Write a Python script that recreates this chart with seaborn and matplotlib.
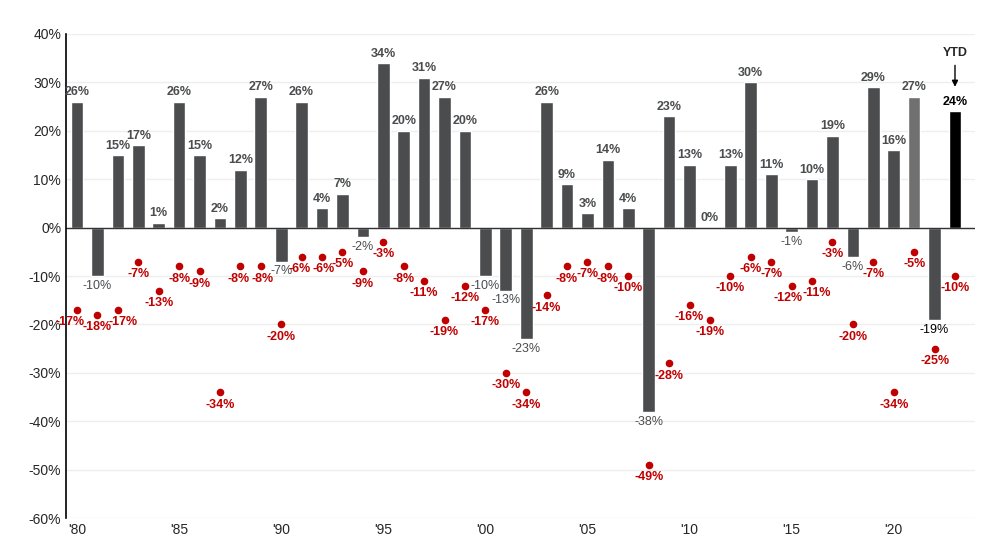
import matplotlib
matplotlib.use("Agg")
import matplotlib.pyplot as plt
import seaborn as sns
import pandas as pd

years = list(range(1980, 2024))
returns = [26, -10, 15, 17, 1, 26, 15, 2, 12, 27, -7, 26, 4, 7, -2, 34, 20, 31, 27, 20,
           -10, -13, -23, 26, 9, 3, 14, 4, -38, 23, 13, 0, 13, 30, 11, -1, 10, 19, -6, 29,
           16, 27, -19, 24]
declines = [-17, -18, -17, -7, -13, -8, -9, -34, -8, -8, -20, -6, -6, -5, -9, -3, -8, -11, -19, -12,
            -17, -30, -34, -14, -8, -7, -8, -10, -49, -28, -16, -19, -10, -6, -7, -12, -11, -3, -20, -7,
            -34, -5, -25, -10]
tick_years = list(range(1980, 2021, 5))
tick_labels = ["'80", "'85", "'90", "'95", "'00", "'05", "'10", "'15", "'20"]

sns.set_style("white")
plt.rcParams['font.family'] = ['Liberation Sans', 'DejaVu Sans']

df = pd.DataFrame({"year": years, "ret": returns, "dec": declines})
colors = ["#4a4c4e"] * len(years)
colors[-3] = "#707070"
colors[-1] = "#000000"

# small horizontal nudges (in years) for crowded decline labels
nudge = {1980: -0.35, 1982: 0.25, 2015: -0.2, 2016: 0.25, 1988: -0.1, 1989: 0.1,
         1991: -0.1, 1992: 0.1}

fig = plt.figure(figsize=(10, 5.56), dpi=100)
ax = fig.add_axes([0.066, 0.068, 0.909, 0.871])
ax.set_axisbelow(True)
ax.yaxis.grid(True, color="#eeeeee", lw=1)
sns.barplot(data=df, x="year", y="ret", hue="year", palette=colors, legend=False,
            native_scale=True, width=0.62, ax=ax)
ax.scatter(df["year"], df["dec"], color="#c00000", s=20, zorder=3)

for y, r, d in zip(years, returns, declines):
    col = "black" if y in (2022, 2023) else "#4a4c4e"
    if r >= 0:
        ax.text(y, r + 0.7, f"{r}%", ha="center", va="bottom", fontsize=9,
                fontweight="bold", color=col)
    else:
        ax.text(y, r - 0.8, f"{r}%", ha="center", va="top", fontsize=9, color=col)
    ax.text(y + nudge.get(y, 0), d - 1.3, f"{d}%", ha="center", va="top", fontsize=9,
            fontweight="bold", color="#c00000")

ax.annotate("YTD", xy=(2023, 28.5), xytext=(2023, 36), ha="center", va="center",
            fontsize=9, fontweight="bold",
            arrowprops=dict(arrowstyle="-|>", color="black", lw=1))

ax.set_ylim(-60, 40)
ax.set_yticks(range(-60, 41, 10))
ax.set_yticklabels([f"{v}%" for v in range(-60, 41, 10)], fontsize=10)
ax.set_xlim(1979.46, 2023.98)
ax.set_xticks(tick_years)
ax.set_xticklabels(tick_labels, fontsize=10)
ax.tick_params(axis="both", length=0)
ax.set_xlabel("")
ax.set_ylabel("")
for s in ["top", "right", "bottom"]:
    ax.spines[s].set_visible(False)
ax.spines["left"].set_color("black")
ax.spines["left"].set_linewidth(1.2)
ax.axhline(0, color="#333333", lw=1, zorder=1)
fig.savefig("out.png", dpi=100)
